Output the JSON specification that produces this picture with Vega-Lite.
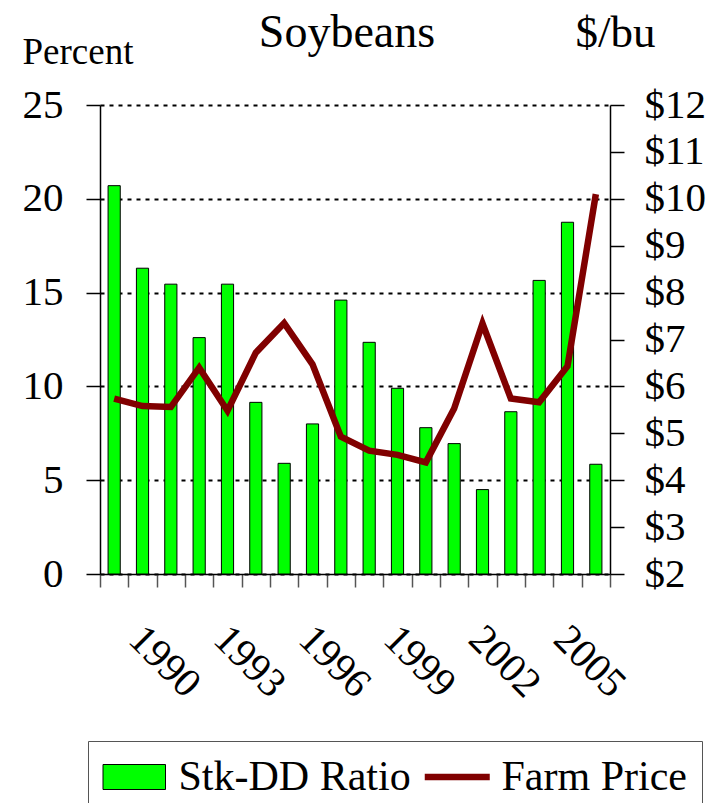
{
  "$schema": "https://vega.github.io/schema/vega-lite/v6.json",
  "width": 510,
  "height": 469,
  "autosize": {"type": "none"},
  "padding": {"left": 100, "top": 105, "right": 106, "bottom": 229},
  "title": {"text": "Soybeans", "font": "Liberation Serif", "fontSize": 46, "fontWeight": "normal", "color": "black", "anchor": "middle", "frame": "group", "baseline": "alphabetic", "offset": -83, "dx": -8},
  "config": {
    "font": "Liberation Serif",
    "view": {"stroke": null},
    "legend": {"labelFont": "Liberation Serif", "labelFontSize": 42, "labelColor": "black", "labelLimit": 400, "symbolSize": 625, "symbolOpacity": 1, "padding": 15, "strokeColor": "#555", "fillColor": "white", "columnPadding": 0, "symbolOffset": 10.25, "labelOffset": 23.25}
  },
  "data": {"values": [
    {"year": 1990, "ratio": 20.7, "price": 5.74},
    {"year": 1991, "ratio": 16.3, "price": 5.58},
    {"year": 1992, "ratio": 15.45, "price": 5.56},
    {"year": 1993, "ratio": 12.6, "price": 6.40},
    {"year": 1994, "ratio": 15.45, "price": 5.48},
    {"year": 1995, "ratio": 9.15, "price": 6.72},
    {"year": 1996, "ratio": 5.9, "price": 7.35},
    {"year": 1997, "ratio": 8.0, "price": 6.47},
    {"year": 1998, "ratio": 14.6, "price": 4.93},
    {"year": 1999, "ratio": 12.35, "price": 4.63},
    {"year": 2000, "ratio": 9.9, "price": 4.54},
    {"year": 2001, "ratio": 7.8, "price": 4.38},
    {"year": 2002, "ratio": 6.95, "price": 5.53},
    {"year": 2003, "ratio": 4.5, "price": 7.34},
    {"year": 2004, "ratio": 8.65, "price": 5.74},
    {"year": 2005, "ratio": 15.65, "price": 5.66},
    {"year": 2006, "ratio": 18.75, "price": 6.43},
    {"year": 2007, "ratio": 5.85, "price": 10.10}
  ]},
  "encoding": {
    "x": {"field": "year", "type": "ordinal",
      "scale": {"paddingInner": 0, "paddingOuter": 0},
      "axis": {"title": null, "labelAngle": 45, "labelAlign": "left", "labelBaseline": "alphabetic", "labelPadding": 54, "labelOffset": 12, "labelFontSize": 41, "labelFont": "Liberation Serif", "labelColor": "black", "labelOverlap": false, "labelBound": false,
        "labelExpr": "(datum.value - 1990) % 3 == 0 ? datum.label : ''",
        "tickBand": "extent", "tickSize": 13, "tickColor": "#555", "tickWidth": 1.5, "domainColor": "black", "domainWidth": 1.5}}
  },
  "layer": [
    {
      "mark": {"type": "bar", "stroke": "black", "strokeWidth": 1, "width": {"band": 0.43}},
      "encoding": {
        "y": {"field": "ratio", "type": "quantitative", "scale": {"domain": [0, 25], "nice": false},
          "axis": {"title": "Percent", "titleAngle": 0, "titleAlign": "left", "titleBaseline": "alphabetic", "titleX": -78, "titleY": -42, "titleFontSize": 37, "titleFont": "Liberation Serif", "titleFontWeight": "normal", "titleColor": "black",
            "values": [0, 5, 10, 15, 20, 25], "labelFontSize": 41, "labelFont": "Liberation Serif", "labelColor": "black", "labelPadding": 23, "tickSize": 14, "tickColor": "black", "tickWidth": 1.5,
            "grid": true, "gridDash": [4, 5], "gridColor": "black", "gridWidth": 2, "gridOpacity": 1, "domainColor": "black", "domainWidth": 1.5}},
        "fill": {"datum": "Stk-DD Ratio", "type": "nominal",
          "scale": {"domain": ["Stk-DD Ratio", "Farm Price"], "range": ["#00ff00", "transparent"]},
          "legend": {"orient": "none", "legendX": -12, "legendY": 636, "direction": "horizontal", "title": null}}
      }
    },
    {
      "mark": {"type": "line"},
      "encoding": {
        "y": {"field": "price", "type": "quantitative", "scale": {"domain": [2, 12], "nice": false},
          "axis": {"orient": "right", "title": "$/bu", "titleAngle": 0, "titleAlign": "left", "titleBaseline": "alphabetic", "titleX": -35, "titleY": -59, "titleFontSize": 45, "titleFont": "Liberation Serif", "titleFontWeight": "normal", "titleColor": "black",
            "values": [2, 3, 4, 5, 6, 7, 8, 9, 10, 11, 12], "labelExpr": "'$' + datum.value", "labelFontSize": 41, "labelFont": "Liberation Serif", "labelColor": "black", "labelPadding": 20, "tickSize": 14, "tickColor": "black", "tickWidth": 1.5,
            "grid": false, "domainColor": "black", "domainWidth": 1.5}},
        "stroke": {"datum": "Farm Price", "type": "nominal",
          "scale": {"domain": ["Stk-DD Ratio", "Farm Price"], "range": ["black", "#800000"]},
          "legend": {"orient": "none", "legendX": -12, "legendY": 636, "direction": "horizontal", "title": null}},
        "strokeWidth": {"datum": "Farm Price", "type": "nominal",
          "scale": {"type": "ordinal", "domain": ["Stk-DD Ratio", "Farm Price"], "range": [1, 6.5]},
          "legend": {"orient": "none", "legendX": -12, "legendY": 636, "direction": "horizontal", "title": null}}
      }
    },
    {
      "mark": {"type": "point", "size": 0, "opacity": 0},
      "encoding": {
        "y": {"field": "price", "type": "quantitative", "scale": {"domain": [2, 12], "nice": false}, "axis": null},
        "shape": {"datum": "Farm Price", "type": "nominal",
          "scale": {"domain": ["Stk-DD Ratio", "Farm Price"], "range": ["M-2.5,-1H2.5V1H-2.5Z", "M-2.6,0H2.6"]},
          "legend": {"orient": "none", "legendX": -12, "legendY": 636, "direction": "horizontal", "title": null}}
      }
    }
  ],
  "resolve": {"scale": {"y": "independent"}}
}
